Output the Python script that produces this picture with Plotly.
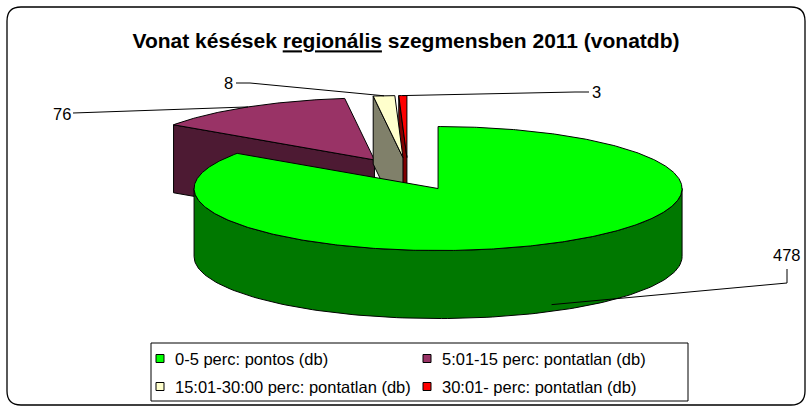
import numpy as np
import plotly.graph_objects as go

# ---------------- data ----------------
categories = ["0-5 perc: pontos (db)",
              "5:01-15 perc: pontatlan (db)",
              "15:01-30:00 perc: pontatlan (db)",
              "30:01- perc: pontatlan (db)"]
values = [478, 76, 8, 3]
value_labels = [str(v) for v in values]
title_text = "Vonat késések <u>regionális</u> szegmensben 2011 (vonatdb)"

# ---------------- style / layout ----------------
top_colors = ["#00FF00", "#993366", "#FFFFCC", "#FF0000"]
side_colors = ["#007800", "#4D1A33", "#80806A", "#800000"]
W, H = 812, 412
CX, CY = 408, 174          # pie centre (px)
A, B = 244, 62             # ellipse radii of the tilted pie
DEPTH = 68                 # thickness
EXPLODE = 0.265            # explosion, fraction of radius
FONT = "Liberation Sans, Arial, sans-serif"
draw_order = [1, 3, 2, 0]

# data-label layout: text position and leader knee points
label_pos = [(787, 255), (62, 114), (228, 83), (596, 92)]
leader_knees = [[(787, 269), (787, 283)],
                [(73, 113)],
                [(236, 83), (250, 83)],
                [(589, 92), (575, 92)]]
anchor_drop = [0.9, 0, 0, 0]   # fraction of depth for the leader anchor

# ---------------- geometry from values ----------------
total = float(sum(values))
ends = np.cumsum(values) / total * 360.0
starts = np.concatenate([[0.0], ends[:-1]])
mids = (starts + ends) / 2.0


def rim(px, py, th):
    th = np.radians(np.asarray(th, dtype=float))
    return px + A * np.sin(th), py - B * np.cos(th)


fig = go.Figure()


def poly(xs, ys, fill):
    fig.add_trace(go.Scatter(x=list(xs), y=list(ys), mode="lines", fill="toself",
                             fillcolor=fill, line=dict(color="black", width=1),
                             hoverinfo="skip", showlegend=False))


apexes = []
for i in range(len(values)):
    m = np.radians(mids[i])
    apexes.append((CX + EXPLODE * A * np.sin(m), CY - EXPLODE * B * np.cos(m)))

for i in draw_order:
    t0, t1 = starts[i], ends[i]
    px, py = apexes[i]
    # radial face at start angle
    if np.sin(np.radians(t0)) < -1e-6:
        rx, ry = rim(px, py, [t0])
        poly([px, rx[0], rx[0], px, px], [py, ry[0], ry[0] + DEPTH, py + DEPTH, py], side_colors[i])
    # radial face at end angle
    if np.sin(np.radians(t1)) > 1e-6:
        rx, ry = rim(px, py, [t1])
        poly([px, rx[0], rx[0], px, px], [py, ry[0], ry[0] + DEPTH, py + DEPTH, py], side_colors[i])
    # outer curved side (front half only)
    lo, hi = max(t0, 90.0), min(t1, 270.0)
    if lo < hi:
        th = np.linspace(lo, hi, 120)
        rx, ry = rim(px, py, th)
        xs = np.concatenate([rx, rx[::-1], rx[:1]])
        ys = np.concatenate([ry, ry[::-1] + DEPTH, ry[:1]])
        poly(xs, ys, side_colors[i])
    # top face
    th = np.linspace(t0, t1, max(4, int((t1 - t0) * 2)))
    rx, ry = rim(px, py, th)
    poly(np.concatenate([[px], rx, [px]]), np.concatenate([[py], ry, [py]]), top_colors[i])

# leader lines and data labels
for i in range(len(values)):
    px, py = apexes[i]
    ax, ay = rim(px, py, [mids[i]])
    ax, ay = ax[0], ay[0] + anchor_drop[i] * DEPTH
    pts = leader_knees[i] + [(ax, ay)]
    fig.add_trace(go.Scatter(x=[p[0] for p in pts], y=[p[1] for p in pts], mode="lines",
                             line=dict(color="black", width=1), hoverinfo="skip", showlegend=False))
    fig.add_annotation(x=label_pos[i][0], y=label_pos[i][1], text=value_labels[i],
                       showarrow=False, xanchor="center", yanchor="middle",
                       font=dict(family=FONT, size=16.5, color="black"))

# legend (2 x 2 grid inside a framed box)
leg_box = (151, 343, 688, 401)
leg_cols = [160, 427]
leg_rows = [358.5, 386.5]
fig.add_shape(type="rect", x0=leg_box[0], y0=leg_box[1], x1=leg_box[2], y1=leg_box[3],
              line=dict(color="black", width=1), fillcolor="white", layer="below")
for i, cat in enumerate(categories):
    cx = leg_cols[i % 2]
    cy = leg_rows[i // 2]
    fig.add_trace(go.Scatter(x=[cx], y=[cy], mode="markers",
                             marker=dict(symbol="square", size=8, color=top_colors[i],
                                         line=dict(color="black", width=1)),
                             hoverinfo="skip", showlegend=False))
    fig.add_annotation(x=cx + 13, y=cy, text=cat, showarrow=False, xanchor="left",
                       yanchor="middle", font=dict(family=FONT, size=16.5, color="black"))

# rounded outer frame
x0, y0, x1, y1, r = 7, 7, 805, 405, 14
frame = (f"M {x0 + r},{y0} L {x1 - r},{y0} Q {x1},{y0} {x1},{y0 + r} "
         f"L {x1},{y1 - r} Q {x1},{y1} {x1 - r},{y1} L {x0 + r},{y1} "
         f"Q {x0},{y1} {x0},{y1 - r} L {x0},{y0 + r} Q {x0},{y0} {x0 + r},{y0} Z")
fig.add_shape(type="path", path=frame, line=dict(color="black", width=1.3), layer="below")

fig.update_layout(
    width=W, height=H, margin=dict(l=0, r=0, t=0, b=0),
    paper_bgcolor="white", plot_bgcolor="white",
    title=dict(text=f"<b>{title_text}</b>", x=0.5, xanchor="center",
               y=1 - 41 / H, yanchor="middle", yref="container",
               font=dict(family=FONT, size=21, color="black")),
    xaxis=dict(range=[0, W], visible=False, fixedrange=True),
    yaxis=dict(range=[H, 0], visible=False, fixedrange=True),
    showlegend=False,
)

fig.write_html("out.html", config={"displayModeBar": False},
               post_script="document.body.style.margin='0px';document.body.style.overflow='hidden';")
